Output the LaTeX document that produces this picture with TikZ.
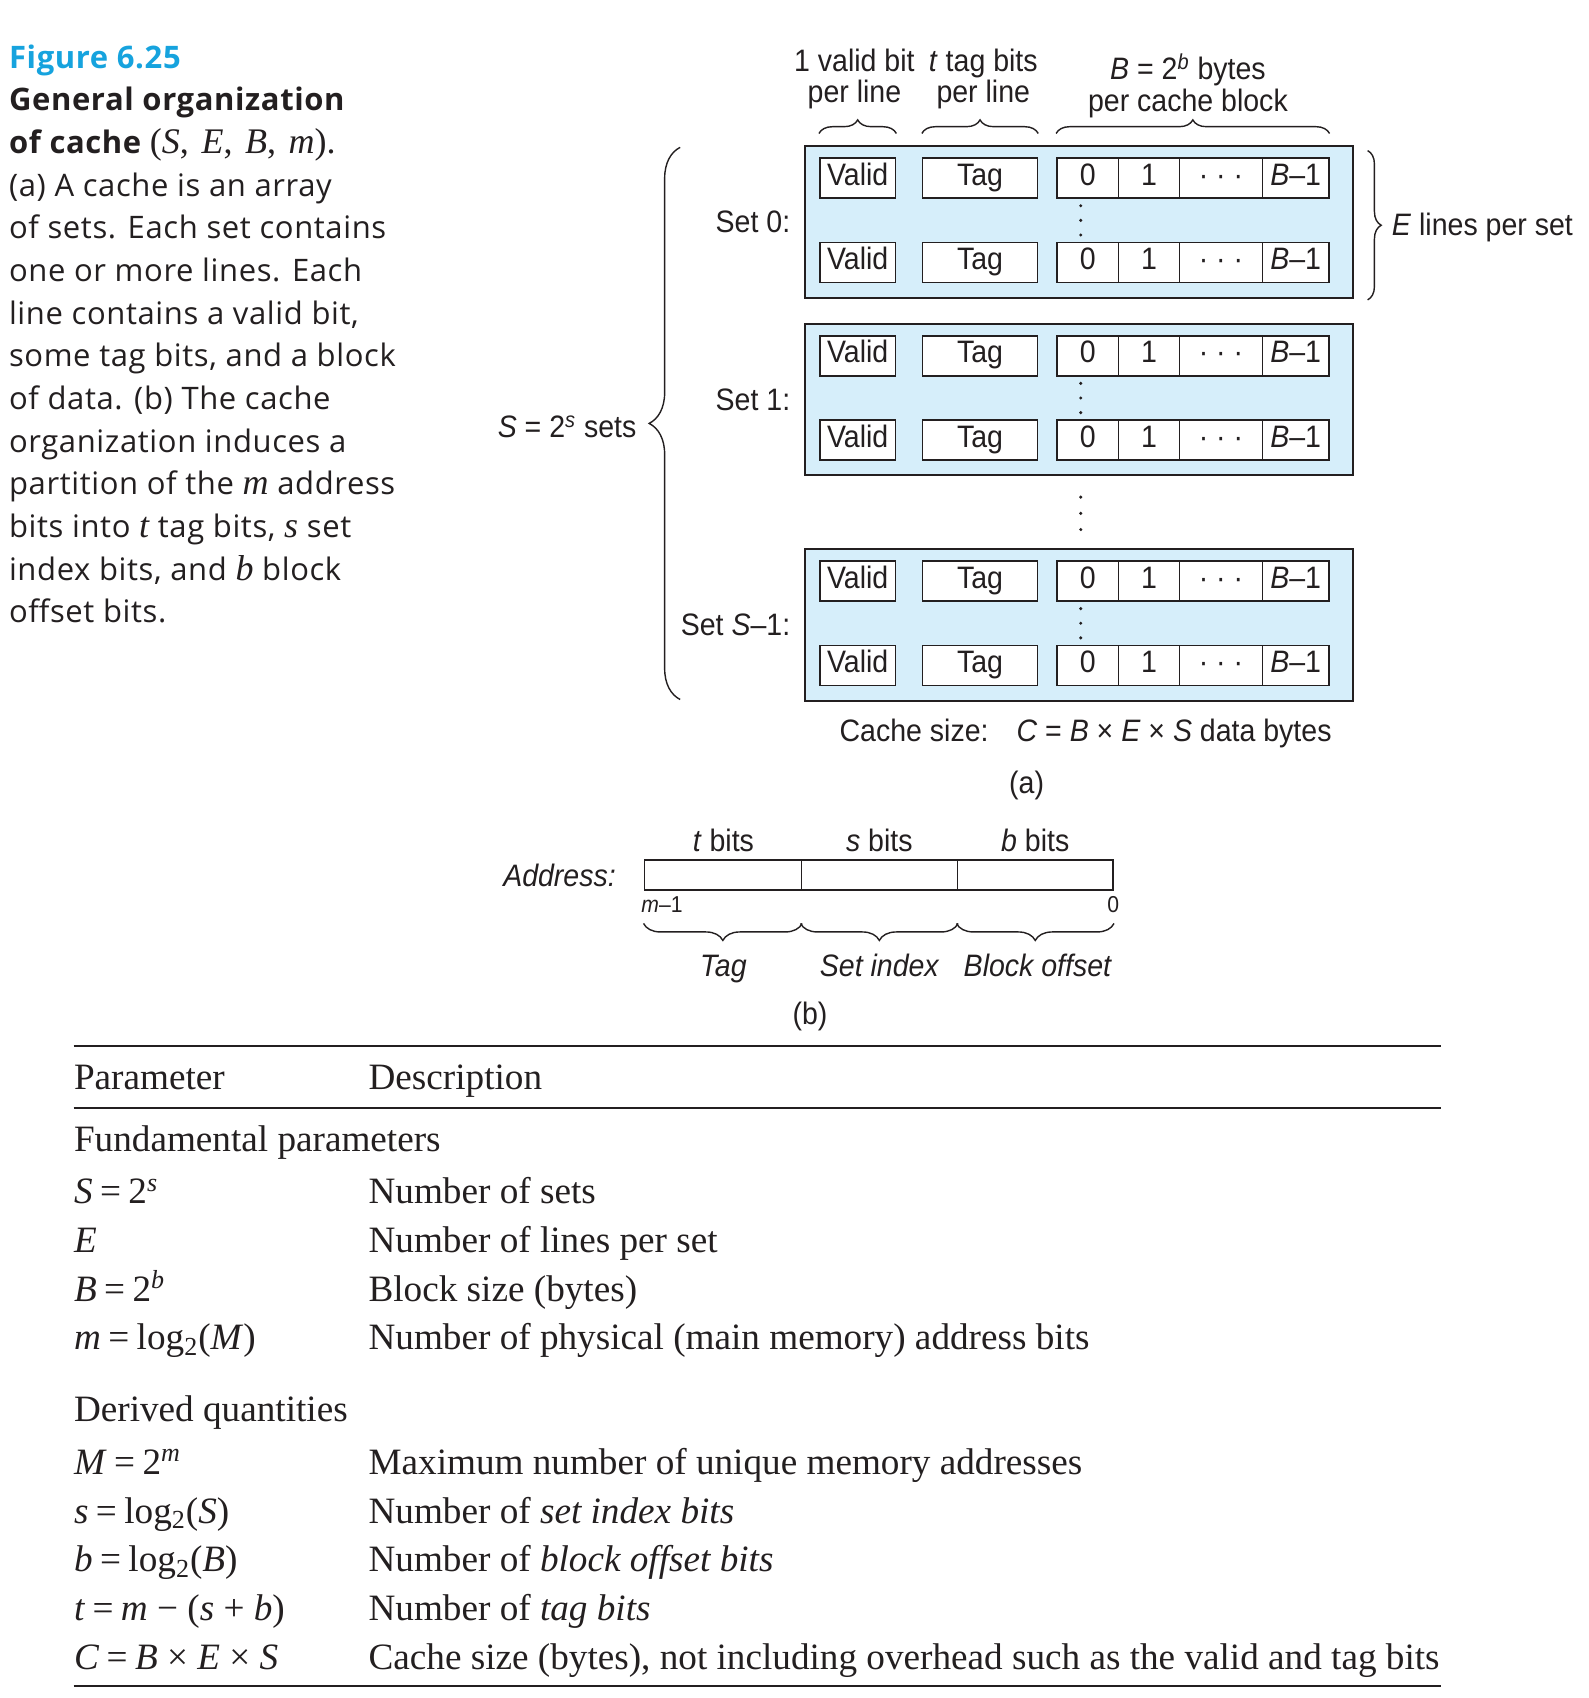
\documentclass[tikz,border=0pt]{standalone}
\usepackage{fontspec}
\usetikzlibrary{decorations.pathreplacing,calc}
\setmainfont{Liberation Serif}
\newfontfamily\capfont[LetterSpace=2.0]{Open Sans}
\newfontfamily\dfont[FakeStretch=0.92]{Liberation Sans}
\definecolor{figcyan}{RGB}{22,163,222}
\definecolor{setfill}{RGB}{214,238,250}
\definecolor{ink}{RGB}{35,31,32}
\def\uu{0.5416pt}
\newcommand{\bop}[1]{\kern0.25em#1\kern0.25em}
\newcommand{\seq}{\kern0.2em=\kern0.2em}
\newcommand{\capmath}[1]{{\rmfamily\mdseries\itshape\fontsize{18pt}{20pt}\selectfont #1}}
\begin{document}
\begin{tikzpicture}[x=0.5416pt, y=-0.5416pt,
  every node/.style={text=ink},
  dtext/.style={font=\dfont\fontsize{15.5pt}{18pt}\selectfont, inner sep=0pt},
  ditext/.style={font=\dfont\itshape\fontsize{15.5pt}{18pt}\selectfont, inner sep=0pt},
  dsmall/.style={font=\dfont\fontsize{11.5pt}{13pt}\selectfont, inner sep=0pt},
  setbox/.style={draw=ink, line width=1pt, fill=setfill, inner sep=0pt, minimum width=506*\uu, minimum height=140*\uu},
  cellbox/.style={dtext, draw=ink, line width=0.8pt, fill=white, minimum height=37*\uu, text height=0.72em, text depth=0pt},
  abox/.style={draw=ink, line width=0.8pt, fill=white, inner sep=0pt, minimum height=28*\uu},
  brc/.style={draw=ink, line width=0.7pt, decorate, decoration={brace, amplitude=#1}},
  captext/.style={font=\capfont\fontsize{15.5pt}{20pt}\selectfont, anchor=base west, inner sep=0pt},
  capbold/.style={captext, font=\capfont\bfseries\fontsize{15.5pt}{20pt}\selectfont},
  tabtext/.style={font=\fontsize{18.6pt}{22pt}\selectfont, anchor=base west, inner sep=0pt},
  rulel/.style={draw=ink, line width=1.1pt},
  dotc/.style={fill=ink},
]
\fill[white] (0,0) rectangle (1467,1568);
\useasboundingbox (0,0) rectangle (1467,1568);

% ---------- caption ----------
\node[capbold, text=figcyan] (c1) at (8,63) {Figure 6.25};
\node[capbold] (c2) at (8,102.4) {General organization};
\node[capbold] (c3) at (8,141.8) {of cache {\rmfamily\mdseries\fontsize{18pt}{20pt}\selectfont (\textit{S},\kern0.35em\textit{E},\kern0.35em\textit{B},\kern0.35em\textit{m}).}};
\node[captext] (c4) at (8,181.2) {(a) A cache is an array};
\node[captext] (c5) at (8,220.6) {of sets. Each set contains};
\node[captext] (c6) at (8,260) {one or more lines. Each};
\node[captext] (c7) at (8,299.4) {line contains a valid bit,};
\node[captext] (c8) at (8,338.8) {some tag bits, and a block};
\node[captext] (c9) at (8,378.2) {of data. (b) The cache};
\node[captext] (c10) at (8,417.6) {organization induces a};
\node[captext] (c11) at (8,457) {partition of the \capmath{m} address};
\node[captext] (c12) at (8,496.4) {bits into \capmath{t} tag bits, \capmath{s} set};
\node[captext] (c13) at (8,535.8) {index bits, and \capmath{b} block};
\node[captext] (c14) at (8,575.2) {offset bits.};

% ---------- sets ----------
\foreach \n/\T in {0/135, 1/299, 2/507} {
  \node[setbox] (set\n) at (996, \T+70) {};
  \foreach \r/\dy in {a/29.5, b/107.5} {
    \node[cellbox, minimum width=70*\uu] (v\n\r) at (792, \T+\dy) {Valid};
    \node[cellbox, minimum width=106*\uu] (t\n\r) at (905, \T+\dy) {Tag};
    \node[cellbox, minimum width=57*\uu] (d\n\r0) at (1004.5, \T+\dy) {0};
    \node[cellbox, minimum width=56*\uu] (d\n\r1) at (1061, \T+\dy) {1};
    \node[cellbox, minimum width=77*\uu] (d\n\r2) at (1127.5, \T+\dy) {· · ·};
    \node[cellbox, minimum width=61*\uu] (d\n\r3) at (1196.5, \T+\dy) {\textit{B}–1};
  }
  \foreach \k in {7,20.5,34} {
    \fill[dotc] (998, \T+48+\k) circle[radius=0.85pt];
  }
}
\foreach \y in {459,474,489} {
  \fill[dotc] (998,\y) circle[radius=0.85pt];
}

\node[dtext, anchor=east] (ls0) at ($(set0.west)+(-12,0)$) {Set 0:};
\node[dtext, anchor=east] (ls1) at ($(set1.west)+(-12,0)$) {Set 1:};
\node[dtext, anchor=east] (ls2) at ($(set2.west)+(-12,0)$) {Set \textit{S}–1:};

% ---------- top labels & braces ----------
\node[dtext, anchor=base] (lv1) at (789,66) {1 valid bit};
\node[dtext, anchor=base] (lv2) at (789,95) {per line};
\node[dtext, anchor=base] (lt1) at (908,66) {\textit{t} tag bits};
\node[dtext, anchor=base] (lt2) at (908,95) {per line};
\node[dtext, anchor=base] (lb1) at (1097,73.5) {\textit{B} = 2\textsuperscript{\textit{b}} bytes};
\node[dtext, anchor=base] (lb2) at (1097,103) {per cache block};

\draw[brc=6.8pt] ($(v0a.north west)+(0,-22)$) -- ($(v0a.north east)+(0,-22)$);
\draw[brc=6.8pt] ($(t0a.north west)+(0,-22)$) -- ($(t0a.north east)+(0,-22)$);
\draw[brc=6.8pt] ($(d0a0.north west)+(0,-22)$) -- ($(d0a3.north east)+(0,-22)$);

% ---------- E brace ----------
\coordinate (eb1) at ($(set0.north east)+(13,5)$);
\coordinate (eb2) at ($(set0.south east)+(13,1)$);
\draw[brc=6.8pt] (eb1) -- (eb2);
\node[dtext, anchor=west] (le) at (1285,210) {\textit{E} lines per set};

% ---------- S brace ----------
\coordinate (sb1) at ($(set2.south west)+(-114,-2)$);
\coordinate (sb2) at ($(set0.north west)+(-114,2)$);
\draw[brc=15.5pt] (sb1) -- (sb2);
\node[dtext, anchor=base east] (lS) at (588,404) {\textit{S} = 2\textsuperscript{\textit{s}} sets};

% ---------- cache size / (a) ----------
\node[dtext, anchor=west] (csize) at (775,677) {Cache size:\hspace{0.9em}\textit{C} = \textit{B} × \textit{E} × \textit{S} data bytes};
\node[dtext] (la) at (948,725) {(a)};

% ---------- address ----------
\node[ditext, anchor=east] (addr) at (569,808) {Address:};
\node[abox, minimum width=145*\uu] (at) at (667.5,808) {};
\node[abox, minimum width=144*\uu] (as) at (812,808) {};
\node[abox, minimum width=144*\uu] (ab) at (956,808) {};
\node[dtext, anchor=base] (ltb) at (668,786) {\textit{t} bits};
\node[dtext, anchor=base] (lsb) at (812,786) {\textit{s} bits};
\node[dtext, anchor=base] (lbb) at (956,786) {\textit{b} bits};
\node[dsmall, anchor=base west] (lm1) at (592,843) {\textit{m}–1};
\node[dsmall, anchor=base] (l0) at (1028,843) {0};
\draw[brc=8.5pt] ($(at.south east)+(0,30)$) -- ($(at.south west)+(0,30)$);
\draw[brc=8.5pt] ($(as.south east)+(0,30)$) -- ($(as.south west)+(0,30)$);
\draw[brc=8.5pt] ($(ab.south east)+(0,30)$) -- ($(ab.south west)+(0,30)$);
\node[ditext, anchor=base] (ltag) at (668,902) {Tag};
\node[ditext, anchor=base] (lset) at (812,902) {Set index};
\node[ditext, anchor=base] (lblk) at (958,902) {Block offset};
\node[dtext, anchor=base] (lbl) at (748,946) {(b)};

% ---------- table ----------
\draw[rulel] (68,966) -- (1331,966);
\node[tabtext] (hp) at (68,1006) {Parameter};
\node[tabtext] (hd) at (340,1006) {Description};
\draw[rulel] (68,1023) -- (1331,1023);
\node[tabtext] (g1) at (68,1063.5) {Fundamental parameters};
\node[tabtext] (p1) at (68,1111.5) {\textit{S}\seq 2\textsuperscript{\textit{s}}};
\node[tabtext] (q1) at (340,1111.5) {Number of sets};
\node[tabtext] (p2) at (68,1156.5) {\textit{E}};
\node[tabtext] (q2) at (340,1156.5) {Number of lines per set};
\node[tabtext] (p3) at (68,1201.5) {\textit{B}\seq 2\textsuperscript{\textit{b}}};
\node[tabtext] (q3) at (340,1201.5) {Block size (bytes)};
\node[tabtext] (p4) at (68,1246.5) {\textit{m}\seq log\textsubscript{2}(\textit{M})};
\node[tabtext] (q4) at (340,1246.5) {Number of physical (main memory) address bits};
\node[tabtext] (g2) at (68,1312.5) {Derived quantities};
\node[tabtext] (p5) at (68,1361.5) {\textit{M}\seq 2\textsuperscript{\textit{m}}};
\node[tabtext] (q5) at (340,1361.5) {Maximum number of unique memory addresses};
\node[tabtext] (p6) at (68,1406.5) {\textit{s}\seq log\textsubscript{2}(\textit{S})};
\node[tabtext] (q6) at (340,1406.5) {Number of \textit{set index bits}};
\node[tabtext] (p7) at (68,1451.5) {\textit{b}\seq log\textsubscript{2}(\textit{B})};
\node[tabtext] (q7) at (340,1451.5) {Number of \textit{block offset bits}};
\node[tabtext] (p8) at (68,1496.5) {\textit{t}\seq\textit{m}\bop{−}(\textit{s}\bop{+}\textit{b})};
\node[tabtext] (q8) at (340,1496.5) {Number of \textit{tag bits}};
\node[tabtext] (p9) at (68,1541.5) {\textit{C}\seq\textit{B}\bop{×}\textit{E}\bop{×}\textit{S}};
\node[tabtext] (q9) at (340,1541.5) {Cache size (bytes), not including overhead such as the valid and tag bits};
\draw[rulel] (68,1557) -- (1331,1557);
\end{tikzpicture}
\end{document}
